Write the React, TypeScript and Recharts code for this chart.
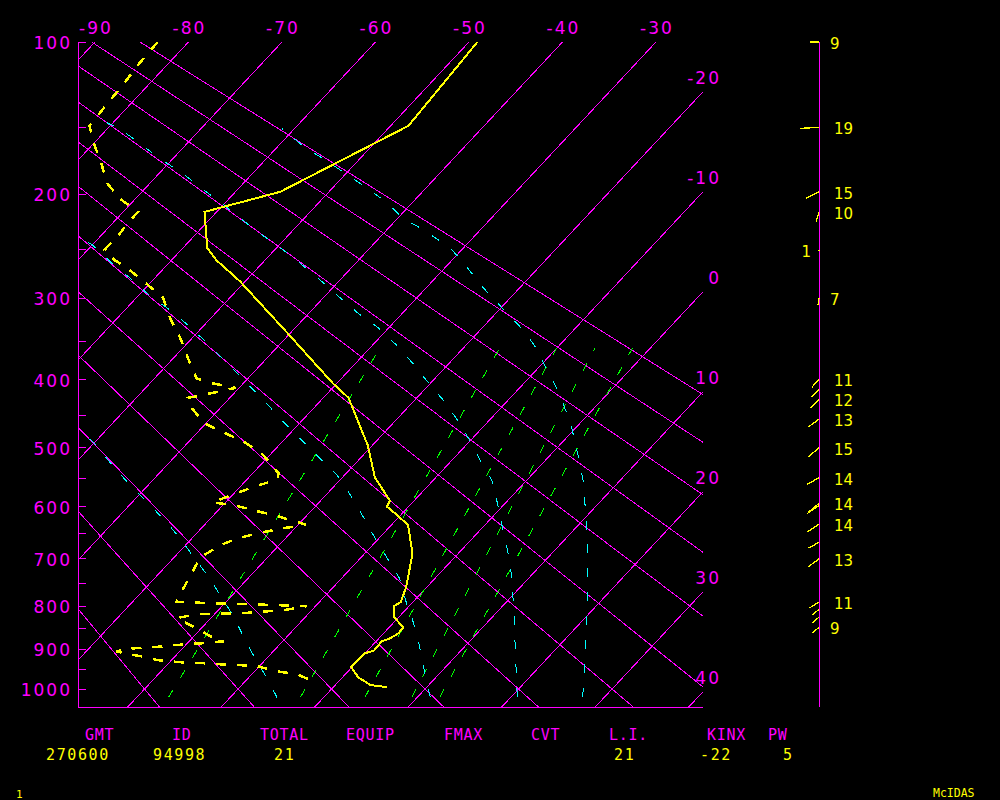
import React from 'react';
import { ComposedChart, Line, XAxis, YAxis, ReferenceLine, Scatter } from 'recharts';

// ---------------- data ----------------
const KAPPA = 0.286;
const topTempTicks = [-90, -80, -70, -60, -50, -40, -30];
const rightTempLabels = [-20, -10, 0, 10, 20, 30, 40];
const pressureTicks = [100, 150, 200, 250, 300, 350, 400, 450, 500, 550, 600, 650, 700, 750, 800, 850, 900, 950, 1000];
const isotherms = [-90, -80, -70, -60, -50, -40, -30, -20, -10, 0, 10, 20, 30, 40];
const dryAdiabatsC = [-20, -10, 0, 10, 20, 30, 40, 50, 60, 70, 80, 90];

const mixingRatios = [1, 3, 5, 7, 9];
const mixingBottomT = [-16.6, -2.5, 4.4, 9.4, 12.4];
const mixingTopT = [-28.9, -16.1, -10.0, -5.9, -1.9];
const MIX_BOTTOM_P = 1022;
const MIX_TOP_P = 359;

const moistAdiabat1 = [[1022, 27.7], [903, 23.3], [787, 18.5], [663, 12.5], [612, 9.6], [559, 6.4], [525, 4.0], [493, 1.5], [462, -1.0], [434, -3.7], [406, -6.6], [378, -9.9], [355, -12.7], [333, -16.0], [310, -20.0], [288, -24.0], [266, -27.9], [248, -31.4], [231, -36.1], [220, -39.6], [207, -42.7], [195, -46.3], [183, -50.2], [173, -53.6], [164, -57.0], [151, -61.3]];
const moistAdiabat2 = [[1022, 20.7], [910, 16.1], [809, 11.6], [734, 7.9], [687, 5.2], [661, 3.6], [629, 1.5], [590, -1.1], [554, -3.7], [525, -6.5], [493, -9.6], [462, -12.9], [433, -16.3], [406, -20.0], [378, -23.9], [354, -27.6], [334, -31.1], [316, -34.9], [297, -38.7], [278, -42.6], [255, -47.8], [234, -53.3], [220, -57.0], [207, -60.5], [194, -64.3], [183, -67.6], [171, -71.8], [160, -75.4], [151, -78.7], [147, -80.6]];
const moistAdiabat3 = [[1022, 11.4], [970, 8.9], [920, 6.5], [871, 4.0], [825, 1.4], [805, 0.1], [740, -3.8], [700, -7.0], [663, -10.1], [627, -13.1], [592, -16.2], [557, -19.5], [544, -20.9], [525, -23.3], [493, -27.4], [462, -31.6], [433, -35.5], [405, -39.6], [378, -43.7], [353, -47.8], [333, -51.3], [313, -55.2], [297, -58.8], [278, -62.7], [263, -66.1], [245, -70.0], [240, -71.5]];
const moistAdiabat4 = [[1022, -5.0], [967, -8.3], [920, -11.4], [871, -14.6], [825, -17.6], [780, -21.0], [740, -24.1], [699, -27.7], [661, -31.1], [627, -34.5], [590, -38.6], [557, -42.5], [525, -46.2], [493, -49.9], [470, -53.2]];

const tempP = [100, 149, 198, 215, 248, 260, 282, 339, 405, 425, 496, 549, 589, 600, 616, 634, 689, 709, 759, 791, 800, 825, 848, 862, 874, 881, 903, 910, 944, 970, 990, 995];
const tempT = [-49.1, -48.1, -55.2, -61.3, -57.4, -55.2, -50.5, -40.5, -30.4, -27.3, -20.5, -16.5, -12.6, -12.3, -10.3, -8.2, -4.9, -4.1, -2.2, -1.3, -1.6, -0.5, 1.5, 1.6, 1.2, 0.6, 0.7, 0.0, -0.1, 1.7, 3.8, 5.7];

const dewP = [100, 112, 124, 136, 149, 155, 161, 175, 191, 204, 215, 225, 234, 250, 260, 266, 283, 299, 311, 323, 346, 371, 398, 405, 411, 423, 425, 440, 462, 476, 490, 510, 542, 552, 569, 592, 598, 607, 616, 627, 633, 642, 650, 659, 673, 697, 731, 772, 791, 800, 809, 816, 818, 827, 834, 853, 871, 881, 886, 890, 895, 898, 905, 910, 917, 927, 932, 934, 937, 939, 942, 955, 962, 980];
const dewT = [-83.3, -83.1, -82.7, -82.5, -82.2, -81.1, -80.0, -77.3, -74.6, -71.6, -68.4, -68.4, -68.2, -68.2, -66.1, -64.4, -60.6, -57.2, -55.7, -54.3, -51.3, -48.5, -45.5, -43.2, -40.4, -43.7, -44.5, -43.0, -40.2, -37.2, -34.2, -30.9, -27.2, -26.8, -29.0, -31.4, -28.6, -26.1, -23.4, -20.7, -19.2, -21.8, -23.5, -25.1, -26.3, -27.2, -26.5, -25.7, -25.3, -10.9, -13.0, -17.2, -21.9, -23.6, -22.7, -20.2, -18.0, -16.3, -18.6, -21.1, -23.1, -25.3, -26.8, -25.7, -23.7, -21.4, -18.8, -16.6, -14.4, -12.2, -10.2, -7.5, -5.2, -2.7];

const windP = [100, 150, 198, 215, 250, 300, 399, 413, 427, 456, 500, 549, 594, 598, 632, 667, 700, 791, 807, 825, 848];
const windDir = [270, 267, 243, 197, 200, 188, 221, 225, 225, 234, 230, 240, 230, 236, 236, 241, 234, 238, 229, 229, 229];
const windSpd = [9, 19, 15, 10, 1, 7, 11, 11, 12, 13, 15, 14, 14, 14, 14, 12, 13, 11, 9, 9, 9];
const windLabel = ['9', '19', '15', '10', '1', '7', '11', '', '12', '13', '15', '14', '14', '', '14', '', '13', '11', '', '', '9'];

const statNames = ['GMT', 'ID', 'TOTAL', 'EQUIP', 'FMAX', 'CVT', 'L.I.', 'KINX', 'PW'];
const statValues = ['270600', '94998', '21', '', '', '', '21', '-22', '5'];

// ---------------- layout ----------------
const MAG = '#ff00ff';
const YEL = '#ffff00';
const CYA = '#00ffff';
const GRN = '#00ff00';
const FONT = '"DejaVu Sans", sans-serif';
const MONO = '"DejaVu Sans Mono", monospace';

const PLOT_LEFT = 78;
const PLOT_W = 625;
const PLOT_H = 665;
const PX_PER_DEG = 9.35;
const BASE_PX = 647; // distance from 100 hPa to 1000 hPa in px
const SKEW_AT_BASE = 64.7; // deg shift between 100 and 1000 hPa
const LABEL_X_AT_M90 = 95;

const pk = (p: number) => Math.pow(p, KAPPA);
const Y_TOP = pk(100);
const Y_BASE = pk(1000);
const Y_BOT = Y_TOP + (PLOT_H / BASE_PX) * (Y_BASE - Y_TOP);
const SKEW = SKEW_AT_BASE / (Y_BASE - Y_TOP);
const X_LEFT = -90 - (LABEL_X_AT_M90 - PLOT_LEFT) / PX_PER_DEG;
const X_RIGHT = X_LEFT + PLOT_W / PX_PER_DEG;

const pt = (p: number, t: number) => ({ x: t - SKEW * (pk(p) - Y_TOP), y: pk(p) });

const isothermLines = isotherms.map((t) => [pt(100, t), pt(1060, t)]);
const dryLines = dryAdiabatsC.map((th) => [100, 1060].map((p) => pt(p, (th + 273.15) * Math.pow(p / 1000, KAPPA) - 273.15)));
const mixLines = mixingRatios.map((_, i) => [pt(MIX_BOTTOM_P, mixingBottomT[i]), pt(MIX_TOP_P, mixingTopT[i])]);
const moistLines = [moistAdiabat1, moistAdiabat2, moistAdiabat3, moistAdiabat4].map((arr) => arr.map(([p, t]) => pt(p, t)));
const tempLine = tempP.map((p, i) => pt(p, tempT[i]));
const dewLine = dewP.map((p, i) => pt(p, dewT[i]));
const rightTicks = rightTempLabels.map((t) => Y_TOP + (t - X_RIGHT) / SKEW);
const leftTicks = pressureTicks.map(pk);

const STAFF_X = 59;
const windTable = windP.map((p, i) => ({ x: STAFF_X, y: pk(p), dir: windDir[i], spd: windSpd[i], label: windLabel[i] }));

const statNameX = [85, 172, 260, 346, 444, 531, 609, 707, 768];
const statValueX = [46, 153, 274, 0, 0, 0, 614, 700, 783];

const LeftTick = (props: any) => {
  const { x, y, payload } = props;
  const p = Math.round(Math.pow(payload.value, 1 / KAPPA));
  const major = p % 100 === 0;
  return (
    <g>
      <line x1={x + 8} x2={x + 16} y1={y} y2={y} stroke={MAG} strokeWidth={1} />
      {major && (
        <text x={x + 2} y={y + 7} textAnchor="end" fill={MAG} fontFamily={FONT} fontSize={17} letterSpacing={2}>
          {p}
        </text>
      )}
    </g>
  );
};

const TopTick = (props: any) => {
  const { x, y, payload } = props;
  return (
    <text x={x + 1} y={y} textAnchor="middle" fill={MAG} fontFamily={FONT} fontSize={17} letterSpacing={2}>
      {payload.value}
    </text>
  );
};

const RightTick = (props: any) => {
  const { x, y, index } = props;
  return (
    <text x={x + 2} y={y - 8} textAnchor="end" fill={MAG} fontFamily={FONT} fontSize={17} letterSpacing={2}>
      {rightTempLabels[index]}
    </text>
  );
};

const Barb = (props: any) => {
  const { cx, cy, payload } = props;
  if (cx == null || cy == null) return null;
  const rad = (payload.dir * Math.PI) / 180;
  const len = payload.spd;
  const x2 = cx + len * Math.sin(rad);
  const y2 = cy - len * Math.cos(rad);
  const lbl: string = payload.label;
  const left = payload.spd < 3;
  return (
    <g>
      <line x1={cx} y1={cy} x2={x2} y2={y2} stroke={YEL} strokeWidth={1.3} />
      {lbl && (
        <text
          x={left ? cx - 8 : cx + (lbl.length === 1 ? 11 : 15)}
          y={cy + 7}
          textAnchor={left ? 'end' : 'start'}
          fill={YEL}
          fontFamily={FONT}
          fontSize={15}
        >
          {lbl}
        </text>
      )}
    </g>
  );
};

const common = { dot: false, activeDot: false, isAnimationActive: false, type: 'linear' as const, xAxisId: 't', yAxisId: 'p', dataKey: 'y' };

export default function App() {
  return (
    <div className="skewt" style={{ position: 'absolute', left: 0, top: 0, width: 1000, height: 800, background: '#000', overflow: 'hidden' }}>
      <style>{`.skewt .recharts-curve, .skewt line { shape-rendering: crispEdges; }`}</style>
      <ComposedChart width={1000} height={800} margin={{ top: 0, left: 0, right: 257, bottom: 93 }} style={{ position: 'absolute', left: 0, top: 0 }}>
        <XAxis
          xAxisId="t"
          dataKey="x"
          type="number"
          orientation="top"
          height={42}
          domain={[X_LEFT, X_RIGHT]}
          allowDataOverflow
          ticks={topTempTicks}
          interval={0}
          tickSize={0}
          tickMargin={8}
          tickLine={false}
          axisLine={false}
          tick={<TopTick />}
        />
        <YAxis
          yAxisId="p"
          dataKey="y"
          type="number"
          orientation="left"
          width={78}
          domain={[Y_TOP, Y_BOT]}
          reversed
          allowDataOverflow
          ticks={leftTicks}
          interval={0}
          tickSize={0}
          tickMargin={8}
          tickLine={false}
          axisLine={{ stroke: MAG, strokeWidth: 1 }}
          tick={<LeftTick />}
        />
        <YAxis
          yAxisId="r"
          type="number"
          orientation="right"
          width={40}
          domain={[Y_TOP, Y_BOT]}
          reversed
          allowDataOverflow
          ticks={rightTicks}
          interval={0}
          tickSize={0}
          tickMargin={16}
          tickLine={false}
          axisLine={false}
          tick={<RightTick />}
        />
        {isothermLines.map((d, i) => (
          <Line key={'iso' + i} {...common} data={d} stroke={MAG} strokeWidth={1} />
        ))}
        {dryLines.map((d, i) => (
          <Line key={'dry' + i} {...common} data={d} stroke={MAG} strokeWidth={1} />
        ))}
        {mixLines.map((d, i) => (
          <Line key={'mix' + i} {...common} data={d} stroke={GRN} strokeWidth={1} strokeDasharray="9 14" />
        ))}
        {moistLines.map((d, i) => (
          <Line key={'moist' + i} {...common} data={d} stroke={CYA} strokeWidth={1} strokeDasharray="9 15" />
        ))}
        <ReferenceLine xAxisId="t" yAxisId="p" y={Y_BOT} stroke={MAG} strokeWidth={1} ifOverflow="visible" />
        <Line {...common} data={dewLine} stroke={YEL} strokeWidth={2.5} strokeDasharray="10 11" />
        <Line {...common} data={tempLine} stroke={YEL} strokeWidth={2} />
      </ComposedChart>

      <ComposedChart width={1000} height={800} margin={{ top: 42, left: 760, right: 140, bottom: 93 }} style={{ position: 'absolute', left: 0, top: 0 }}>
        <XAxis xAxisId="w" dataKey="x" type="number" domain={[0, 100]} hide />
        <YAxis yAxisId="w" dataKey="y" type="number" domain={[Y_TOP, Y_BOT]} reversed hide />
        <ReferenceLine xAxisId="w" yAxisId="w" x={STAFF_X} stroke={MAG} strokeWidth={1} />
        <Scatter xAxisId="w" yAxisId="w" data={windTable} dataKey="y" isAnimationActive={false} shape={(p: any) => <Barb {...p} />} />
      </ComposedChart>

      <svg width={1000} height={800} style={{ position: 'absolute', left: 0, top: 0, pointerEvents: 'none' }}>
        {statNames.map((n, i) => (
          <text key={'n' + i} x={statNameX[i]} y={740} fill={MAG} fontFamily={MONO} fontSize={15} letterSpacing={0.7}>
            {n}
          </text>
        ))}
        {statValues.map((v, i) =>
          v ? (
            <text key={'v' + i} x={statValueX[i]} y={760} fill={YEL} fontFamily={MONO} fontSize={15} letterSpacing={1.6}>
              {v}
            </text>
          ) : null
        )}
        <text x={16} y={798} fill={YEL} fontFamily={MONO} fontSize={11}>1</text>
        <text x={933} y={797} fill={YEL} fontFamily={MONO} fontSize={11.5}>McIDAS</text>
      </svg>
    </div>
  );
}
